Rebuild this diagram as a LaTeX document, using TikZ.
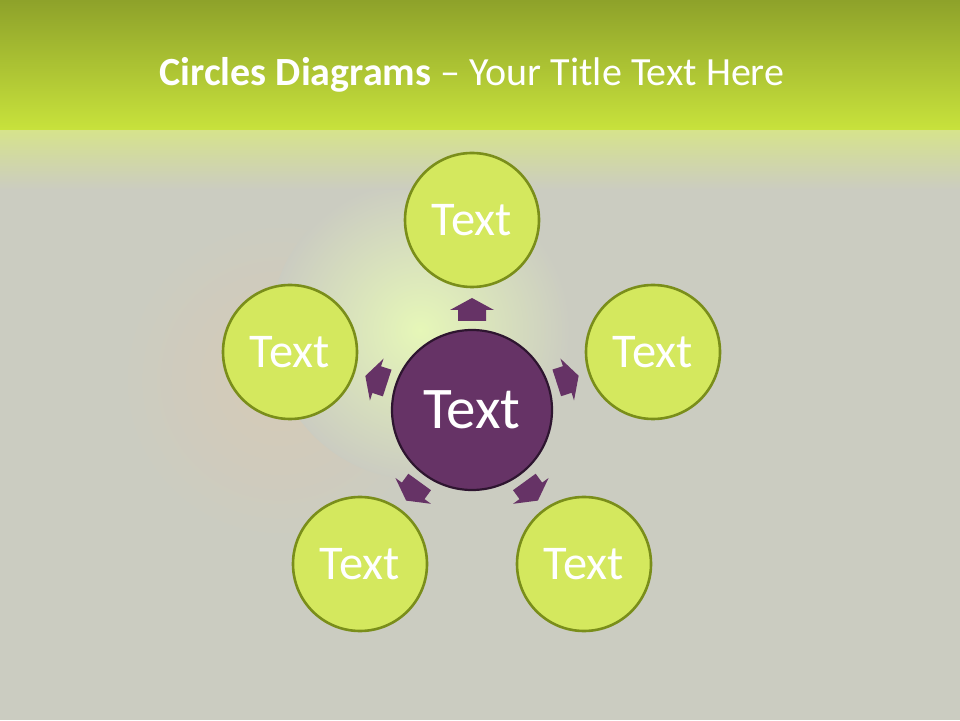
\documentclass[tikz,border=0pt]{standalone}
\usepackage{fontspec}
\setmainfont{Carlito}
\usetikzlibrary{calc}
\definecolor{bandtop}{HTML}{8EA22A}
\definecolor{bandbot}{HTML}{C8E23C}
\definecolor{bggray}{HTML}{CBCCC1}
\definecolor{fadegreen}{HTML}{D6E38C}
\definecolor{glow}{HTML}{E6F7B8}
\definecolor{warm}{HTML}{D6CAB6}
\definecolor{outerfill}{HTML}{D4E85E}
\definecolor{outerline}{HTML}{7A8E1A}
\definecolor{purplefill}{HTML}{663366}
\definecolor{purpleline}{HTML}{2E1530}
\definecolor{arrowfill}{HTML}{663366}
\tikzset{
  outercircle/.style={circle, fill=outerfill, draw=outerline, line width=2.6pt,
    minimum size=134pt, inner sep=0pt, text=white, font=\fontsize{48.5}{48.5}\selectfont},
  centercircle/.style={circle, fill=purplefill, draw=purpleline, line width=2.2pt,
    minimum size=160pt, inner sep=0pt, text=white, font=\fontsize{59}{59}\selectfont},
  blockarrow/.style={fill=arrowfill},
}
\begin{document}
\begin{tikzpicture}[x=1pt,y=1pt]
\useasboundingbox (0,0) rectangle (960,720);
% background
\fill[bggray] (0,0) rectangle (960,720);
\shade[inner color=warm, outer color=bggray] (280,340) circle (160);
\shade[inner color=glow, outer color=bggray] (420,390) circle (150);
\shade[top color=fadegreen, bottom color=bggray] (0,530) rectangle (960,590);
\shade[top color=bandtop, bottom color=bandbot] (0,590) rectangle (960,720);
% title
\node (title) at (472,645) {\fontsize{40}{40}\selectfont\color{white}\textbf{Circles Diagrams} – Your Title Text Here};
% circles
\node[centercircle] (c) at (472,310) {Text};
\node[outercircle] (t1) at (472,500) {Text};
\node[outercircle] (t2) at (653,368) {Text};
\node[outercircle] (t3) at (584,156) {Text};
\node[outercircle] (t4) at (360,156) {Text};
\node[outercircle] (t5) at (290,368) {Text};
% arrows
\foreach \t/\a in {t1/90, t2/18, t3/-54, t4/-126, t5/162}{
  \begin{scope}[shift={($(c)!100pt!(\t)$)}, rotate=\a]
    \fill[blockarrow] (-11,-14) -- (0,-14) -- (0,-22) -- (12,0) -- (0,22) -- (0,14) -- (-11,14) -- cycle;
  \end{scope}
}
\end{tikzpicture}
\end{document}
